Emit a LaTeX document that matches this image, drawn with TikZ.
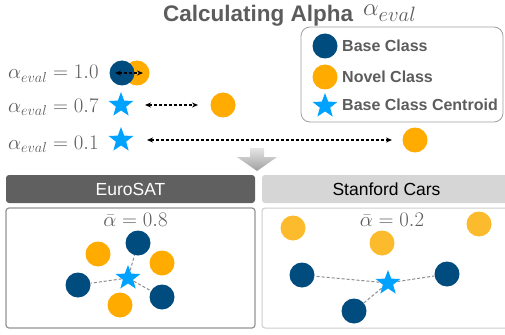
\documentclass[tikz,border=0pt]{standalone}
\usepackage[no-math]{fontspec}
\newfontfamily\headfont{Liberation Sans}
\usetikzlibrary{shapes.geometric,arrows.meta}
\definecolor{baseblue}{RGB}{0,76,127}
\definecolor{novelorange}{RGB}{255,171,0}
\definecolor{novellight}{RGB}{252,187,45}
\definecolor{centroidblue}{RGB}{0,162,255}
\definecolor{textgray}{RGB}{92,92,92}
\definecolor{headdark}{RGB}{96,96,96}
\definecolor{headlight}{RGB}{214,214,214}
\begin{document}
\begin{tikzpicture}[x=1pt,y=-1pt,
  base/.style={circle,fill=baseblue,minimum size=25pt,inner sep=0pt},
  novel/.style={circle,fill=novelorange,minimum size=25pt,inner sep=0pt},
  centroid/.style={star,star points=5,star point ratio=2.4,fill=centroidblue,minimum size=26pt,inner sep=0pt},
  gap/.style={dash pattern=on 3pt off 2pt,line width=1.2pt,{Stealth[length=6pt,width=5pt]}-{Stealth[length=6pt,width=5pt]}},
  spoke/.style={dash pattern=on 3pt off 2pt,draw=gray!90,line width=1pt},
  keytext/.style={font=\headfont\bfseries\fontsize{16}{18}\selectfont,text=textgray,anchor=west,inner sep=0pt},
  alphatext/.style={text=textgray,font=\fontsize{21}{24}\selectfont,anchor=base west,inner sep=0pt},
  header/.style={rounded corners=3pt,minimum width=249pt,minimum height=28pt,inner sep=0pt,font=\headfont\fontsize{17.5}{20}\selectfont},
  panel/.style={draw,rounded corners=3pt,minimum width=249pt,minimum height=120pt,inner sep=0pt}]
\useasboundingbox (0,0) rectangle (505,334);
\clip (0,0) rectangle (505,334);

% title
\node[font=\headfont\bfseries\fontsize{22.5}{26}\selectfont,text=textgray,anchor=base west,inner sep=0pt] (title) at (163,21.5) {Calculating Alpha};
\node[text=textgray,font=\fontsize{29}{32}\selectfont,anchor=base west,inner sep=0pt] (titlealpha) at (363,16) {$\alpha_{eval}$};

% legend
\node[draw=gray!75,line width=0.8pt,rounded corners=9pt,minimum width=202pt,minimum height=95pt] (key) at (402,74.5) {};
\node[base] (keybase) at (325,46) {};
\node[novel] (keynovel) at (325,77) {};
\node[centroid] (keystar) at (325,106) {};
\node[keytext] (keybasetext) at (342,46) {Base Class};
\node[keytext] (keynoveltext) at (342,77) {Novel Class};
\node[keytext] (keystartext) at (342,105) {Base Class Centroid};

% three example distances
\node[alphatext,font=\fontsize{22}{24}\selectfont] (rownear) at (8,79) {$\alpha_{eval}=1.0$};
\node[alphatext,font=\fontsize{22}{24}\selectfont] (rowmid) at (8,112) {$\alpha_{eval}=0.7$};
\node[alphatext,font=\fontsize{22}{24}\selectfont] (rowfar) at (8,149) {$\alpha_{eval}=0.1$};
\node[novel] (near) at (137,73) {};
\node[base] (nearbase) at (122,73) {};
\draw[gap] ([xshift=-7pt]nearbase.center) -- ([xshift=6pt]near.center);
\node[centroid] (midstar) at (121,105) {};
\node[novel] (mid) at (223,105) {};
\draw[gap,shorten <=24pt,shorten >=25pt] (midstar.center) -- (mid.center);
\node[centroid] (farstar) at (121,140) {};
\node[novel] (far) at (415,140) {};
\draw[gap,shorten <=26pt,shorten >=23pt] (farstar.center) -- (far.center);

% arrow down
\shade[top color=gray!20,bottom color=gray!75] (250,148) -- (264,148) -- (264,157) -- (277,157) -- (257,171) -- (237,157) -- (250,157) -- cycle;

% headers
\node[header,fill=headdark,text=white] (euro) at (130.5,189) {EuroSAT};
\node[header,fill=headlight,text=black] (cars) at (386.5,189) {Stanford Cars};

% EuroSAT
\node[panel,draw=gray!85,line width=1.2pt] (europanel) at (130.5,268) {};
\node[alphatext,anchor=base] (eurobar) at (135.5,226) {$\bar{\alpha}=0.8$};
\node[novel] (eno1) at (98,254) {};
\node[novel] (eno2) at (162,263) {};
\node[novel] (eno3) at (120,305) {};
\node[base] (eba1) at (138,243) {};
\node[base] (eba2) at (78,285) {};
\node[base] (eba3) at (162,297) {};
\node[centroid] (eurostar) at (128,278) {};
\draw[spoke] (eurostar) -- (eba1);
\draw[spoke] (eurostar) -- (eba2);
\draw[spoke] (eurostar) -- (eba3);

% Stanford Cars
\node[panel,draw=gray!40,line width=1pt] (carspanel) at (386.5,268) {};
\node[alphatext,anchor=base] (carsbar) at (392,226) {$\bar{\alpha}=0.2$};
\node[novel,fill=novellight] (cno1) at (293,228) {};
\node[novel,fill=novellight] (cno2) at (382,243) {};
\node[novel,fill=novellight] (cno3) at (479,224) {};
\node[base] (cba1) at (302,275) {};
\node[base] (cba2) at (447,274) {};
\node[base] (cba3) at (354,311) {};
\node[centroid] (carsstar) at (388,283) {};
\draw[spoke] (carsstar) -- (cba1);
\draw[spoke] (carsstar) -- (cba2);
\draw[spoke] (carsstar) -- (cba3);
\end{tikzpicture}
\end{document}
